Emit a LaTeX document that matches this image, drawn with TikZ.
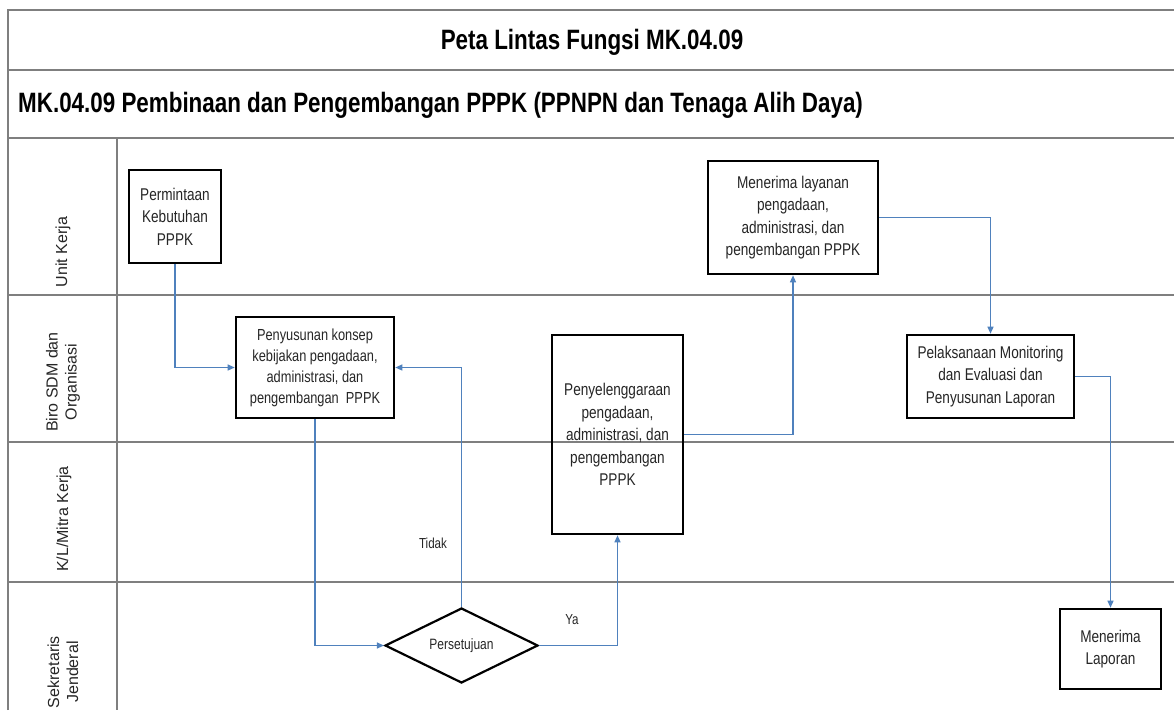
\documentclass[tikz,border=0pt]{standalone}
\usepackage{fontspec}
\setmainfont{Liberation Sans}
\newfontfamily\nar{Liberation Sans}[FakeStretch=0.8]
\usetikzlibrary{shapes.geometric,arrows.meta}
\definecolor{conncol}{HTML}{4F81BD}
\definecolor{framecol}{HTML}{7F7F7F}
\definecolor{txtcol}{HTML}{262626}
\begin{document}
\begin{tikzpicture}[x=1pt,y=-1pt,
  procbox/.style={draw=black, line width=2.6pt, inner sep=0pt, align=center, text=txtcol,
    font=\nar\fontsize{17}{22.5}\selectfont},
  decbox/.style={draw=black, line width=2.2pt, shape=diamond, aspect=2, inner sep=0pt, text=txtcol,
    font=\nar\fontsize{15}{18}\selectfont},
  flow/.style={draw=conncol, line width=1.2pt, -{Triangle[length=7pt,width=6pt]}},
  laneline/.style={draw=framecol, line width=2.5pt},
  lanelabel/.style={rotate=90, align=center, text=txtcol, font=\fontsize{16}{19}\selectfont},
  flowlabel/.style={text=txtcol, font=\nar\fontsize{14.5}{17}\selectfont},
  titletext/.style={font=\nar\bfseries\fontsize{28}{32}\selectfont, text=black}]
\useasboundingbox (0,0) rectangle (1174,710);
\fill[white] (0,0) rectangle (1174,710);
% frame
\draw[laneline] (8,710) -- (8,10) -- (1174,10);
\draw[laneline] (8,70) -- (1174,70);
\draw[laneline] (8,138) -- (1174,138);
\draw[laneline] (8,295) -- (1174,295);
\draw[laneline] (8,442) -- (1174,442);
\draw[laneline] (8,582) -- (1174,582);
\draw[draw=framecol, line width=2pt] (117,138) -- (117,710);
% titles
\node[titletext] (title) at (592,42) {Peta Lintas Fungsi MK.04.09};
\node[titletext, anchor=west, inner sep=0pt] (subtitle) at (18,105) {MK.04.09 Pembinaan dan Pengembangan PPPK (PPNPN dan Tenaga Alih Daya)};
% lane labels
\node[lanelabel] (l1) at (63,252) {Unit Kerja};
\node[lanelabel] (l2) at (63,382) {Biro SDM dan\\Organisasi};
\node[lanelabel] (l3) at (64,519) {K/L/Mitra Kerja};
\node[lanelabel] (l4) at (63,672) {Sekretaris\\Jenderal};
% process nodes
\node[procbox, minimum width=92pt, minimum height=93pt] (perm) at (175,216.5) {Permintaan\\Kebutuhan\\PPPK};
\node[procbox, minimum width=158pt, minimum height=101pt, font=\nar\fontsize{16}{21}\selectfont] (pen) at (315,367.5) {Penyusunan konsep\\kebijakan pengadaan,\\administrasi, dan\\pengembangan~~PPPK};
\node[decbox, minimum width=153pt, minimum height=75pt] (dia) at (461.5,645.5) {Persetujuan};
\node[procbox, minimum width=131pt, minimum height=199pt] (peny) at (617.5,434.5) {Penyelenggaraan\\pengadaan,\\administrasi, dan\\pengembangan\\PPPK};
\node[procbox, minimum width=170pt, minimum height=113pt] (mlay) at (793,217.5) {Menerima layanan\\pengadaan,\\administrasi, dan\\pengembangan PPPK};
\node[procbox, minimum width=167pt, minimum height=83pt] (pel) at (990.5,376.5) {Pelaksanaan Monitoring\\dan Evaluasi dan\\Penyusunan Laporan};
\node[procbox, minimum width=101pt, minimum height=80pt] (lap) at (1110.5,649) {Menerima\\Laporan};
% connectors
\draw[flow] (perm.south) |- (pen.west);
\draw[flow] (pen.south) |- (dia.west);
\draw[flow] (dia.north) |- (pen.east);
\draw[flow] (dia.east) -| (peny.south);
\draw[flow] (peny.east) -| (mlay.south);
\draw[flow] (mlay.east) -| (pel.north);
\draw[flow] (pel.east) -| (lap.north);
% flow labels
\node[flowlabel] (tidak) at (433,543) {Tidak};
\node[flowlabel] (ya) at (572,620) {Ya};
\end{tikzpicture}
\end{document}
